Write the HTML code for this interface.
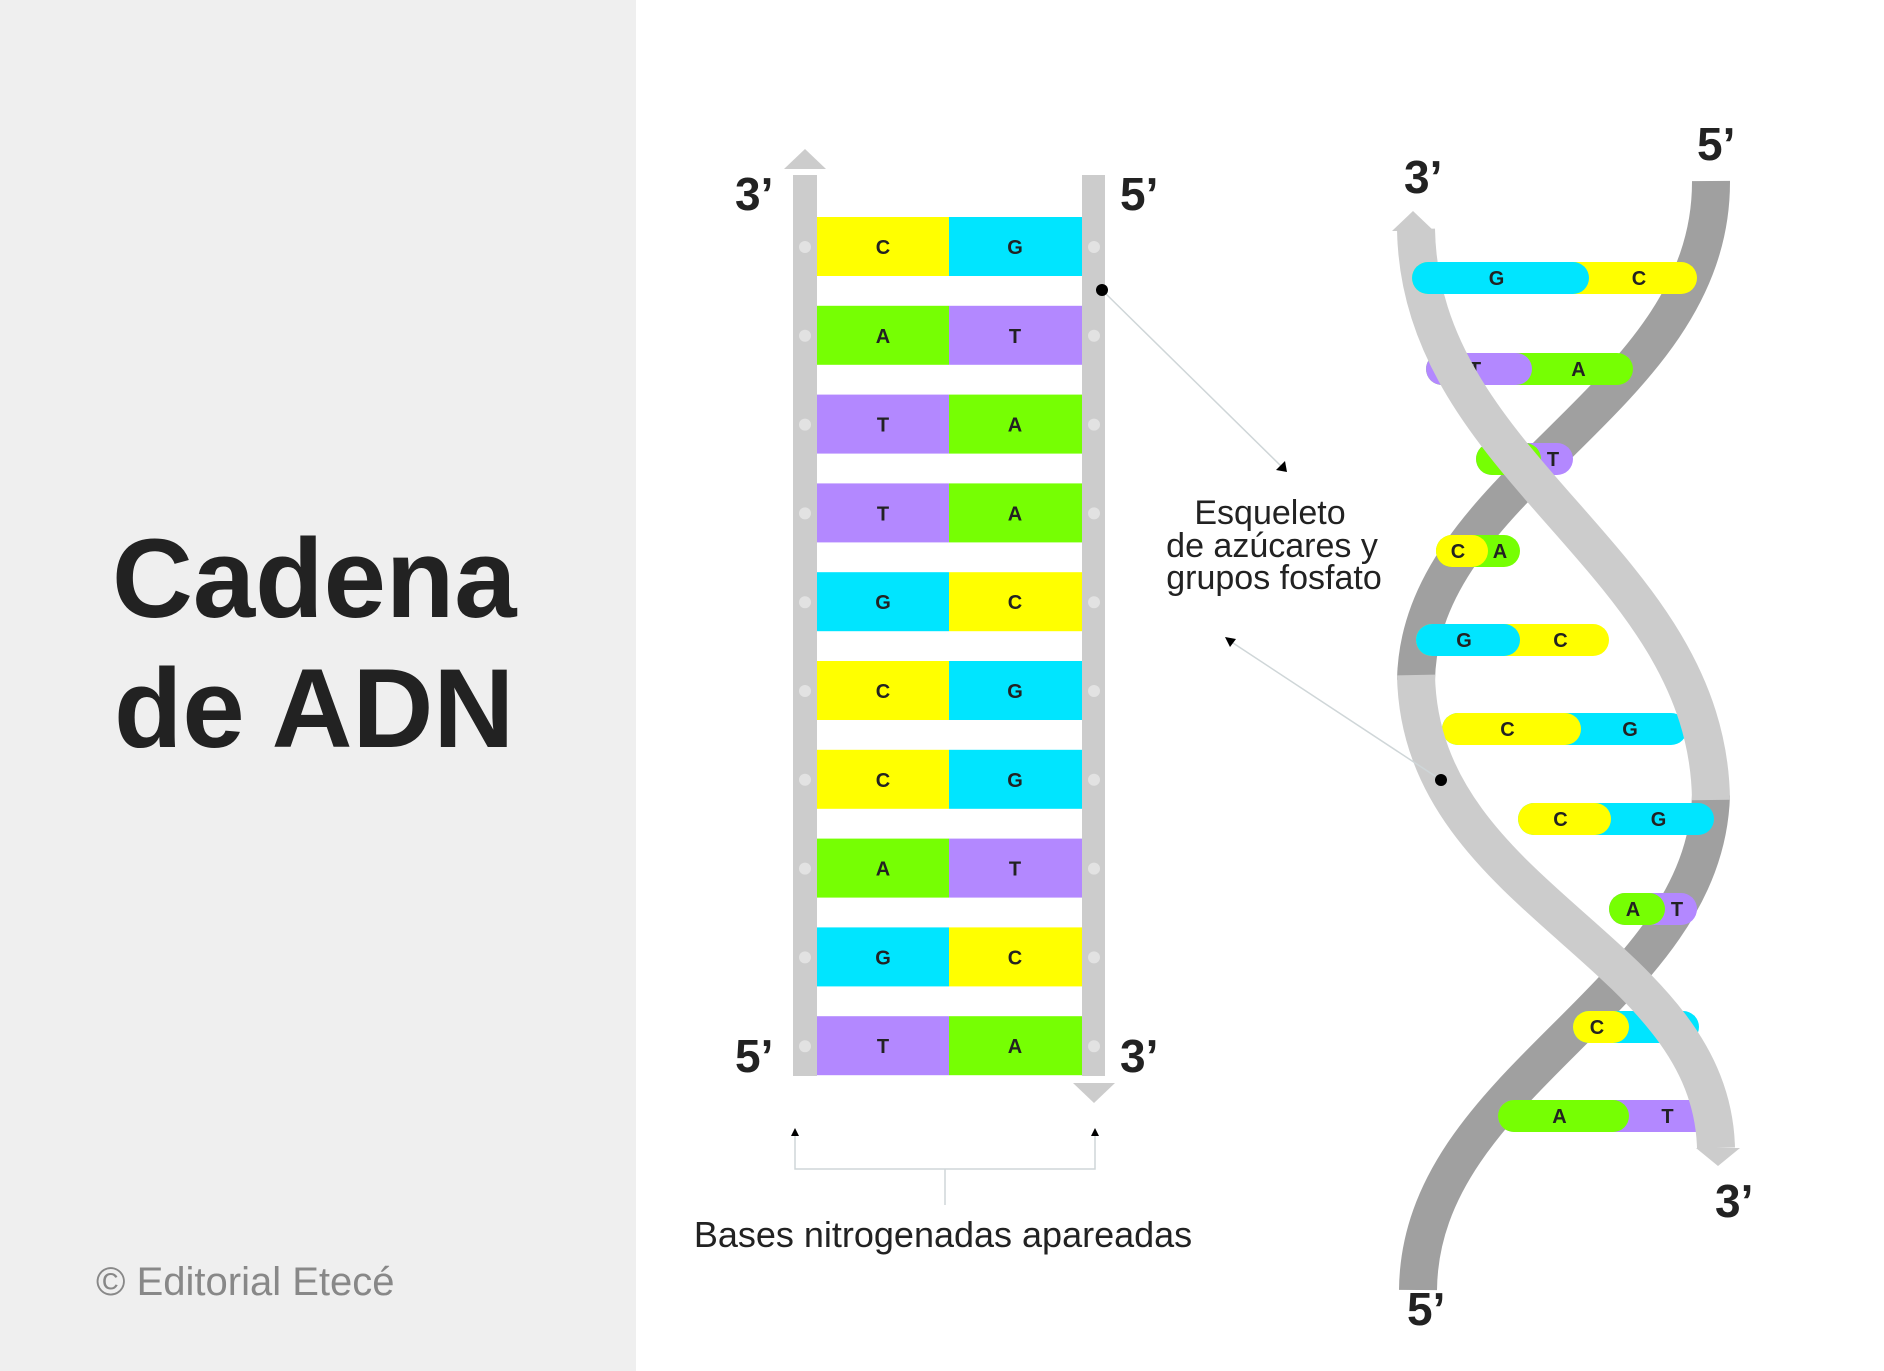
<!DOCTYPE html>
<html><head><meta charset="utf-8"><style>
html,body{margin:0;padding:0;background:#fff}
body{width:1884px;height:1371px;position:relative;overflow:hidden;font-family:"Liberation Sans",sans-serif}
</style></head><body>
<svg width="1884" height="1371" viewBox="0 0 1884 1371" xmlns="http://www.w3.org/2000/svg" style="position:absolute;left:0;top:0">
<rect x="0" y="0" width="636" height="1371" fill="#efefef"/>
<g font-family="Liberation Sans, sans-serif" font-weight="bold" fill="#222">
<text x="112" y="617" font-size="112">Cadena</text>
<text x="114" y="747" font-size="112">de ADN</text>
</g>
<text x="96" y="1295" font-size="40" fill="#888" font-family="Liberation Sans, sans-serif">© Editorial Etecé</text>

<!-- ladder -->
<rect x="793" y="175" width="24" height="901" fill="#cccccc"/>
<rect x="1082" y="175" width="23" height="901" fill="#cccccc"/>
<polygon points="784,169 805,149 826,169" fill="#cccccc"/>
<polygon points="1073,1083 1094,1103 1115,1083" fill="#cccccc"/>
<g id="rows" font-family="Liberation Sans, sans-serif" font-weight="bold" font-size="20" fill="#222" text-anchor="middle"></g>

<g font-family="Liberation Sans, sans-serif" font-weight="bold" font-size="46" fill="#222">
<text x="735" y="210">3’</text><text x="1120" y="210">5’</text>
<text x="735" y="1072">5’</text><text x="1120" y="1072">3’</text>
</g>

<!-- pointers -->
<line x1="1102" y1="290" x2="1283" y2="468" stroke="#cfd6d8" stroke-width="1.5"/>
<circle cx="1102" cy="290" r="6" fill="#000"/>
<polygon points="1287,472 1276,470 1285,461" fill="#000"/>
<g font-family="Liberation Sans, sans-serif" font-size="34" fill="#222" text-anchor="middle">
<text x="1270" y="524">Esqueleto</text>
<text x="1272" y="557">de azúcares y</text>
<text x="1274" y="589">grupos fosfato</text>
</g>
<text x="943" y="1247" font-family="Liberation Sans, sans-serif" font-size="36" fill="#222" text-anchor="middle">Bases nitrogenadas apareadas</text>

<!-- bracket -->
<g stroke="#cfd6d8" stroke-width="1.5" fill="none">
<path d="M795,1133 V1169 H1095 V1133 M945,1169 V1205"/>
</g>
<polygon points="795,1128 791,1136 799,1136" fill="#000"/>
<polygon points="1095,1128 1091,1136 1099,1136" fill="#000"/>

<!-- helix back -->
<g fill="none" stroke="#a0a0a0" stroke-width="38" stroke-linecap="butt">
<path d="M1711,181 C1712,400 1420,480 1416,680"/>
<path d="M1711,795 C1705,1000 1420,1080 1418,1290"/>
</g>
<g id="pills" font-family="Liberation Sans, sans-serif" font-weight="bold" font-size="20" fill="#222" text-anchor="middle"></g>
<!-- helix front -->
<g fill="none" stroke="#cccccc" stroke-width="38">
<path d="M1416,229 C1420,470 1708,560 1711,800"/>
<path d="M1416,675 C1420,900 1711,950 1716,1148"/>
</g>
<g id="pills2" font-family="Liberation Sans, sans-serif" font-weight="bold" font-size="20" fill="#222" text-anchor="middle"></g>
<polygon points="1392,231 1413,211 1434,231" fill="#cccccc"/>
<polygon points="1696,1148 1718,1166 1740,1148" fill="#cccccc"/>
<line x1="1441" y1="780" x2="1230" y2="641" stroke="#cfd6d8" stroke-width="1.5"/>
<circle cx="1441" cy="780" r="6" fill="#000"/>
<polygon points="1225,637 1236,639 1230,647" fill="#000"/>
<g font-family="Liberation Sans, sans-serif" font-weight="bold" font-size="46" fill="#222">
<text x="1404" y="193">3’</text><text x="1697" y="160">5’</text>
<text x="1715" y="1217">3’</text><text x="1407" y="1325">5’</text>
</g>
</svg>
<script>
var C={C:"#ffff00",G:"#00e5ff",A:"#76ff03",T:"#b388ff"};
var ns="http://www.w3.org/2000/svg";
function el(p,t,a,txt){var e=document.createElementNS(ns,t);for(var k in a)e.setAttribute(k,a[k]);if(txt)e.textContent=txt;p.appendChild(e);}
var g=document.getElementById("rows");
var pairs=["CG","AT","TA","TA","GC","CG","CG","AT","GC","TA"];
pairs.forEach(function(p,i){var y=217+i*88.8;
el(g,"rect",{x:817,y:y,width:132,height:59,fill:C[p[0]]});
el(g,"rect",{x:949,y:y,width:133,height:59,fill:C[p[1]]});
el(g,"text",{x:883,y:y+37},p[0]);el(g,"text",{x:1015,y:y+37},p[1]);
el(g,"circle",{cx:805,cy:y+30,r:6,fill:"#e2e2e2"});
el(g,"circle",{cx:1094,cy:y+30,r:6,fill:"#e2e2e2"});
});
var H=[[278,1412,1581,1697,"GC",2],[369,1426,1524,1633,"TA",1],[459,1476,1533,1573,"AT",1],[551,1436,1480,1520,"CA",1],[640,1416,1512,1609,"GC",1],[729,1442,1573,1687,"CG",1],[819,1518,1603,1714,"CG",1],[909,1609,1657,1697,"AT",1],[1027,1573,1621,1699,"CG",1],[1116,1498,1621,1714,"AT",1]];
H.forEach(function(h){var gg=document.getElementById(h[5]==2?"pills2":"pills");var y=h[0]-16;
el(gg,"rect",{x:h[1],y:y,width:h[3]-h[1],height:32,rx:16,fill:C[h[4][1]]});
el(gg,"rect",{x:h[1],y:y,width:h[2]-h[1]+8,height:32,rx:16,fill:C[h[4][0]]});
el(gg,"text",{x:(h[1]+h[2])/2,y:h[0]+7},h[4][0]);el(gg,"text",{x:(h[2]+h[3])/2,y:h[0]+7},h[4][1]);
});
</script>
</body></html>
